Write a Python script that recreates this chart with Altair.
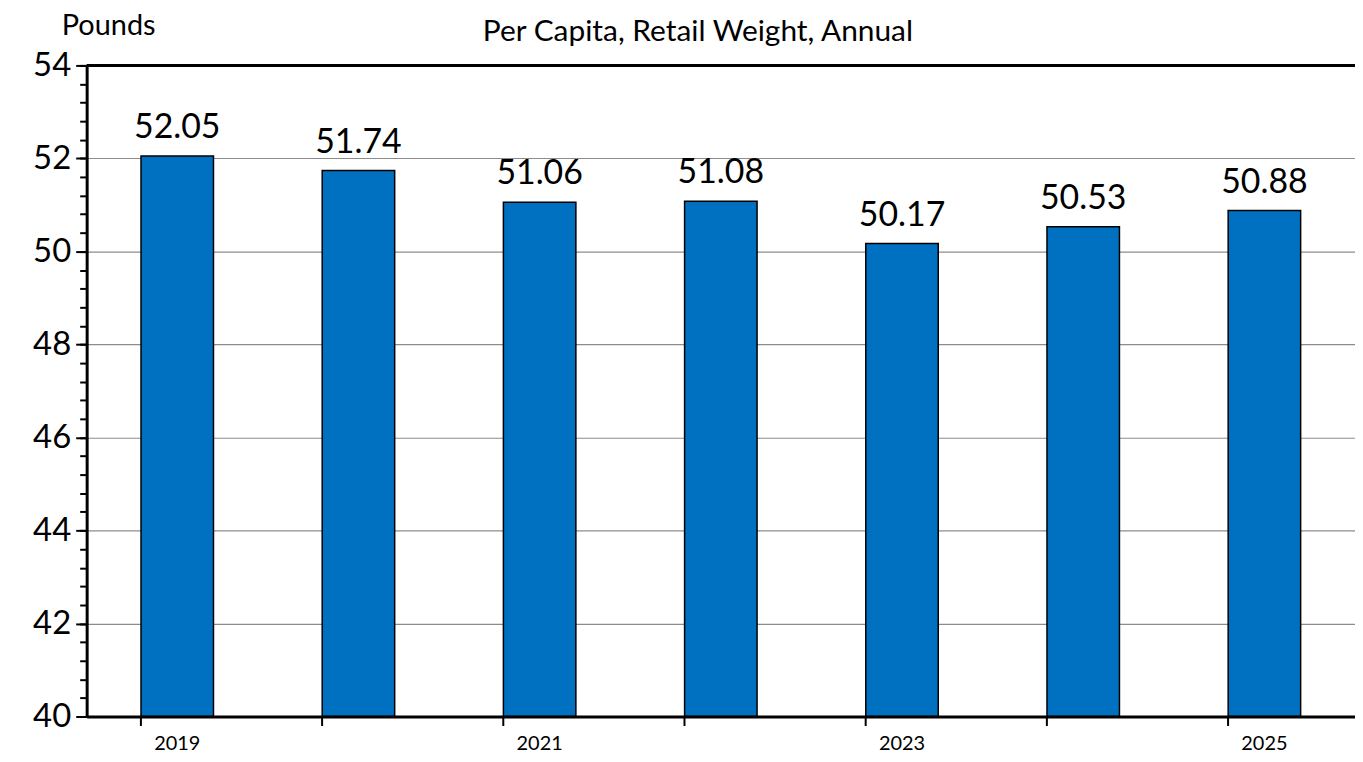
import altair as alt
import pandas as pd

YEARS = ["2019", "2020", "2021", "2022", "2023", "2024", "2025"]
VALUES = [52.05, 51.74, 51.06, 51.08, 50.17, 50.53, 50.88]
YEAR_LABELS = ["2019", "2021", "2023", "2025"]
MAJOR_TICKS = [40, 42, 44, 46, 48, 50, 52, 54]
MINOR_TICKS = [round(40 + 0.4 * i, 1) for i in range(36)]
TITLE = "Per Capita, Retail Weight, Annual"
Y_TITLE = "Pounds"

df = pd.DataFrame({"year": YEARS, "value": VALUES})

W, H = 1274, 654
FONT = "Lato"

yscale = alt.Scale(domain=[40, 54], nice=False, zero=False, clamp=True)
xscale = alt.Scale(paddingInner=0.6, paddingOuter=0.3)

base = alt.Chart(df)

bars = base.mark_bar(color="#0070C0", stroke="black", strokeWidth=1.5).encode(
    x=alt.X("year:O", scale=xscale, sort=YEARS,
            axis=alt.Axis(values=YEAR_LABELS, orient="bottom", ticks=False,
                          domain=False, labelFontSize=20, labelFont=FONT,
                          labelColor="black", labelPadding=17, labelAngle=0,
                          title=None, grid=False)),
    y=alt.Y("value:Q", scale=yscale,
            axis=alt.Axis(values=MAJOR_TICKS, orient="left", grid=True,
                          gridColor="#8c8c8c", gridWidth=1.2,
                          domainColor="black", domainWidth=3,
                          tickColor="black", tickWidth=2, tickSize=11,
                          labelFontSize=33, labelFont=FONT, labelColor="black",
                          labelPadding=5, title=None)),
)

labels = base.mark_text(dy=-18, baseline="alphabetic", fontSize=34, font=FONT,
                        color="black").encode(
    x=alt.X("year:O", sort=YEARS,
            axis=alt.Axis(bandPosition=0, orient="bottom", labels=False,
                          ticks=True, tickSize=9, tickWidth=2,
                          tickColor="black", domain=True, domainWidth=3,
                          domainColor="black", grid=False, title=None,
                          zindex=1)),
    y=alt.Y("value:Q",
            axis=alt.Axis(orient="left", values=MINOR_TICKS, labels=False,
                          domain=False, ticks=True, tickSize=7, tickWidth=2,
                          tickColor="black", grid=False, title=None)),
    text=alt.Text("value:Q", format=".2f"),
)

top_rule = alt.Chart(pd.DataFrame({"v": [54]})).mark_rule(
    color="black", strokeWidth=3).encode(
    y=alt.Y("v:Q", axis=None)
)

title = alt.Chart(pd.DataFrame({"t": [TITLE]})).mark_text(
    fontSize=30, font=FONT, color="black", align="center", baseline="alphabetic"
).encode(text="t:N", x=alt.value(614), y=alt.value(-25))

ytitle = alt.Chart(pd.DataFrame({"t": [Y_TITLE]})).mark_text(
    fontSize=29, font=FONT, color="black", align="left", baseline="alphabetic"
).encode(text="t:N", x=alt.value(-25), y=alt.value(-31))

chart = alt.layer(bars, labels, top_rule, title, ytitle).resolve_axis(
    x="independent", y="independent"
).properties(
    width=W, height=H,
    autosize=alt.AutoSizeParams(type="none"),
    padding={"left": 79, "top": 56, "right": 0, "bottom": 44},
).configure_view(stroke=None)

chart.save("out.html", embed_options={"renderer": "svg", "actions": False})
